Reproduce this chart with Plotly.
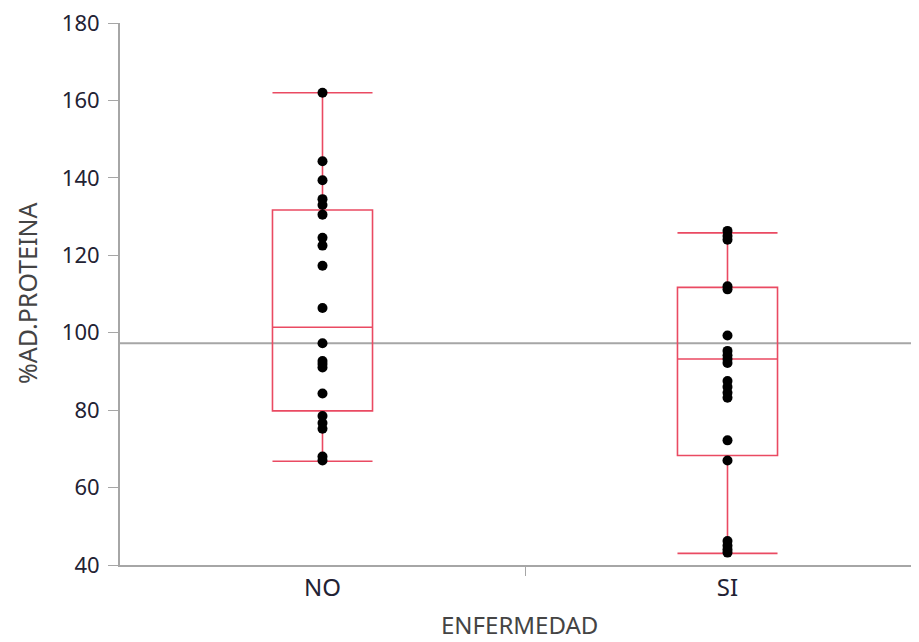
import plotly.graph_objects as go

# ---- data ----
categories = ["NO", "SI"]
no_values = [162, 144.3, 139.4, 134.5, 133, 130.5, 124.5, 122.5, 117.3, 106.4,
             97.3, 92.7, 91.9, 91, 84.3, 78.5, 76.7, 75.2, 68, 67]
si_values = [126.3, 125, 124, 112, 111.2, 99.3, 95.3, 94.2, 93.2, 92.2,
             87.5, 86, 84.5, 83.2, 72.2, 67, 46.2, 45, 44, 43.2]
box_q1 = [79.8, 68.3]
box_median = [101.4, 93.2]
box_q3 = [131.7, 111.7]
box_lower = [66.8, 43]
box_upper = [162, 125.8]
grand_mean = 97.3
y_ticks = [40, 60, 80, 100, 120, 140, 160, 180]

RED = "#ea4a62"
GREY = "#a6a6a6"
FONT = "Noto Sans"
TXT = "#222233"

W, H = 911, 634          # page body has an 8px margin
L, T, B, R = 112, 15, 77, 0
PW = W - L - R

fig = go.Figure()

# points
for i, vals in enumerate([no_values, si_values]):
    fig.add_trace(go.Scatter(
        x=[i] * len(vals), y=vals, mode="markers",
        marker=dict(color="black", size=10, line=dict(width=0)),
        showlegend=False, hoverinfo="y"))

# boxes (precomputed statistics)
fig.add_trace(go.Box(
    x=list(range(len(categories))),
    q1=box_q1, median=box_median, q3=box_q3,
    lowerfence=box_lower, upperfence=box_upper,
    width=0.247, whiskerwidth=1,
    fillcolor="rgba(0,0,0,0)",
    line=dict(color=RED, width=1.6),
    boxpoints=False, showlegend=False))

# grand mean line
fig.add_shape(type="line", xref="paper", x0=0, x1=1, yref="y",
              y0=grand_mean, y1=grand_mean,
              line=dict(color=GREY, width=2), layer="below")

fig.update_layout(
    width=W, height=H,
    margin=dict(l=L, r=R, t=T, b=B, autoexpand=False),
    paper_bgcolor="white", plot_bgcolor="white",
    font=dict(family=FONT, color=TXT, size=22),
    xaxis=dict(
        range=[-0.5, -0.5 + PW / 405.0],
        tickmode="array", tickvals=list(range(len(categories))), ticktext=categories,
        ticks="", showgrid=False, zeroline=False,
        showline=True, linecolor=GREY, linewidth=2,
        tickfont=dict(size=24, color=TXT),
        ticklabeloverflow="allow",
        minor=dict(tickmode="array", tickvals=[0.5], ticks="outside",
                   ticklen=9, tickcolor=GREY, tickwidth=1, showgrid=False),
    ),
    yaxis=dict(
        range=[40, 180], tickmode="array", tickvals=y_ticks,
        ticks="outside", ticklen=10, tickcolor=GREY, tickwidth=1,
        showgrid=False, zeroline=False,
        showline=True, linecolor=GREY, linewidth=2,
        tickfont=dict(size=22, color=TXT),
        ticklabeloverflow="allow", ticklabelstandoff=4,
    ),
)

fig.add_annotation(text="%AD.PROTEINA", xref="paper", yref="paper",
                   x=(19 - L) / PW, y=0.5, textangle=-90,
                   showarrow=False, xanchor="center", yanchor="middle",
                   font=dict(size=25, color="#444444", family=FONT))
fig.add_annotation(text="ENFERMEDAD", xref="paper", yref="paper",
                   x=0.5, y=0, yshift=-59, showarrow=False,
                   xanchor="center", yanchor="middle",
                   font=dict(size=24, color="#444444", family=FONT))

fig.write_html("out.html")
